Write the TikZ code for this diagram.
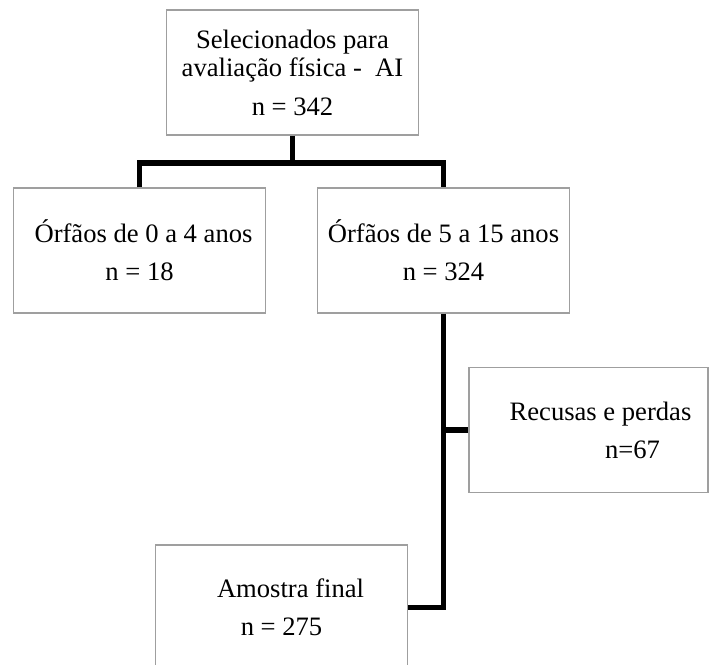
\documentclass[tikz,border=0pt]{standalone}
\usepackage{fontspec}
\setmainfont{Liberation Serif}
\usetikzlibrary{positioning,calc}
\tikzset{
    block/.style={
        rectangle,
        draw=gray!75,
        line width=0.6pt,
        fill=white,
        minimum width=126pt,
        minimum height=62.5pt,
        align=center,
        font=\fontsize{13.3}{14}\selectfont
    },
    link/.style={
        draw=black,
        line width=2.8pt,
        line join=miter
    }
}

\begin{document}
\begin{tikzpicture}[x=0.5pt, y=-0.5pt]
        \clip (0,0) rectangle (710,664);
        \fill[white] (0,0) rectangle (710,664);

        % Nodes
        \node (sel) [block] at (292.5,72.5) {Selecionados para\\avaliação física -\ \ AI\\[5.5pt]n = 342};
        \node (orfA) [block] at (139.5,250.5) {\hspace*{4pt}Órfãos de 0 a 4 anos\\[5pt]n = 18};
        \node (orfB) [block] at (443.5,250.5) {Órfãos de 5 a 15 anos\\[5pt]n = 324};
        \node (perdas) [block, minimum width=119.5pt] at (588.5,430) {\hspace*{12pt}Recusas e perdas\\[5pt]\hspace*{44pt}n=67};
        \node (final) [block] at (281.5,607.5) {\hspace*{9pt}Amostra final\\[5pt]n = 275};

        % Connectors
        \coordinate (split) at (292.5,163);
        \coordinate (drop) at (orfB.south |- perdas.west);
        \draw[link] (sel) -- (split);
        \draw[link] (orfA.north) |- (split) -| (orfB.north);
        \draw[link] (orfB.south) |- (final.east);
        \draw[link] (perdas.west) -- (drop);
    \end{tikzpicture}
\end{document}
